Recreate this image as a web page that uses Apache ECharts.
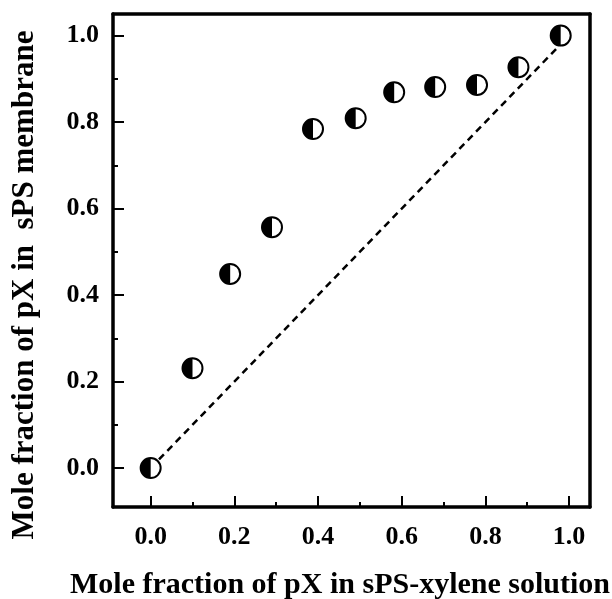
<!DOCTYPE html>
<html>
<head>
<meta charset="utf-8">
<script src="https://cdn.jsdelivr.net/npm/echarts@6/dist/echarts.min.js"></script>
<style>
  html, body { margin: 0; padding: 0; background: #fff; }
  #grafics { width: 612px; height: 599px; }
</style>
</head>
<body>
<div id="grafics"></div>
<script>
var solutionFraction = [0.0, 0.10, 0.19, 0.29, 0.388, 0.49, 0.582, 0.68, 0.78, 0.879, 0.98];
var membraneFraction = [0.0, 0.231, 0.449, 0.557, 0.784, 0.809, 0.869, 0.881, 0.886, 0.927, 1.0];
var diagonal = [[0, 0], [1, 1]];
var majorTicks = [0, 0.2, 0.4, 0.6, 0.8, 1.0];
var minorTicks = [0.1, 0.3, 0.5, 0.7, 0.9];
var xTitle = 'Mole fraction of pX in sPS-xylene solution';
var yTitle = 'Mole fraction of pX in  sPS membrane';

var points = solutionFraction.map(function (x, i) {
  return [x, membraneFraction[i]];
});

var font = 'Liberation Serif';
var axisMin = -0.09, axisMax = 1.05;

function mainAxis(pos) {
  return {
    type: 'value', position: pos, min: axisMin, max: axisMax,
    splitLine: { show: false },
    axisLine: { show: true, onZero: false, lineStyle: { color: '#000', width: 3.5 } },
    axisTick: { show: true, inside: true, length: 11, customValues: majorTicks, lineStyle: { color: '#000', width: 2 } },
    axisLabel: {
      show: true, customValues: majorTicks, margin: pos === 'left' ? 14 : 17,
      color: '#000', fontFamily: font, fontWeight: 'bold', fontSize: 26,
      formatter: function (v) { return v.toFixed(1); }
    }
  };
}
function minorAxis(pos) {
  return {
    type: 'value', position: pos, min: axisMin, max: axisMax,
    splitLine: { show: false },
    axisLine: { show: false, onZero: false },
    axisTick: { show: true, inside: true, length: 5, customValues: minorTicks, lineStyle: { color: '#000', width: 2 } },
    axisLabel: { show: false }
  };
}
function frameAxis(pos) {
  return {
    type: 'value', position: pos, min: axisMin, max: axisMax,
    splitLine: { show: false },
    axisLine: { show: true, onZero: false, lineStyle: { color: '#000', width: 3.5 } },
    axisTick: { show: false },
    axisLabel: { show: false }
  };
}

var dom = document.getElementById('grafics');
var myChart = echarts.init(dom, null, { renderer: 'canvas' });

var option = {
  backgroundColor: '#fff',
  animation: false,
  grid: { left: 113, top: 14, right: 22, bottom: 92 },
  xAxis: [mainAxis('bottom'), minorAxis('bottom'), frameAxis('top')],
  yAxis: [mainAxis('left'), minorAxis('left'), frameAxis('right')],
  graphic: [
    {
      type: 'text', x: 340, y: 585,
      style: { text: xTitle, fill: '#000', font: 'bold 30px "' + font + '"', textAlign: 'center', textVerticalAlign: 'middle' }
    },
    {
      type: 'text', x: 25, y: 285, rotation: Math.PI / 2,
      style: { text: yTitle, fill: '#000', font: 'bold 31px "' + font + '"', textAlign: 'center', textVerticalAlign: 'middle' }
    }
  ],
  series: [
    {
      type: 'line', data: diagonal, symbol: 'none', z: 1,
      lineStyle: { color: '#000', width: 2.5, type: [7, 5] }
    },
    {
      type: 'scatter', data: points, symbol: 'circle', symbolSize: 20, z: 3,
      itemStyle: { color: '#fff', borderColor: '#000', borderWidth: 2, opacity: 1 }
    },
    {
      type: 'scatter', data: points, z: 4,
      symbol: 'path://M10 0 A10 10 0 0 0 10 20 Z',
      symbolSize: [10, 20], symbolOffset: [-5, 0],
      itemStyle: { color: '#000', opacity: 1 }
    }
  ]
};

myChart.setOption(option);
window.addEventListener('resize', myChart.resize);
</script>
</body>
</html>
